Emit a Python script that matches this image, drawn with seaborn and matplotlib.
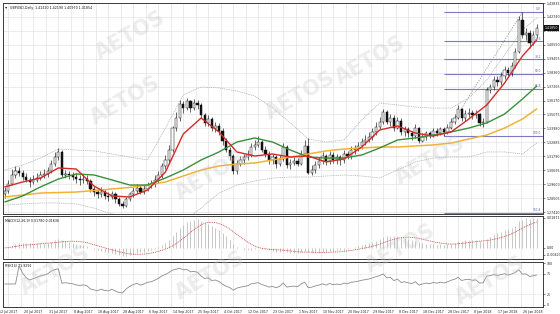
import numpy as np
import pandas as pd
import matplotlib
matplotlib.use("Agg")
import matplotlib.pyplot as plt
import seaborn as sns

sns.set_theme(style="white")
plt.rcParams['font.family'] = ['DejaVu Sans']

# ---------------- data ----------------
first_open = 1.2880
closes = [
    1.2905, 1.2960, 1.3030, 1.3060, 1.3050, 1.3020, 1.2995, 1.2980, 1.2995, 1.3010,
    1.3030, 1.3040, 1.3060, 1.3120, 1.3170, 1.3210, 1.3030, 1.3040, 1.3030, 1.3020,
    1.3000, 1.2990, 1.3000, 1.2985, 1.2920, 1.2900, 1.2880, 1.2900, 1.2870, 1.2860,
    1.2880, 1.2840, 1.2800, 1.2790, 1.2840, 1.2880, 1.2910, 1.2930, 1.2900, 1.2920,
    1.2950, 1.2960, 1.2990, 1.3030, 1.3100, 1.3150, 1.3230, 1.3400, 1.3480, 1.3590,
    1.3560, 1.3610, 1.3560, 1.3600, 1.3580, 1.3500, 1.3440, 1.3470, 1.3400, 1.3420,
    1.3380, 1.3300, 1.3230, 1.3180, 1.3060, 1.3120, 1.3150, 1.3170, 1.3190, 1.3250,
    1.3270, 1.3290, 1.3230, 1.3200, 1.3150, 1.3170, 1.3120, 1.3160, 1.3250, 1.3110,
    1.3130, 1.3140, 1.3120, 1.3200, 1.3260, 1.3050, 1.3070, 1.3110, 1.3140, 1.3180,
    1.3140, 1.3190, 1.3150, 1.3170, 1.3150, 1.3200, 1.3180, 1.3230, 1.3240, 1.3260,
    1.3290, 1.3310, 1.3330, 1.3370, 1.3410, 1.3450, 1.3530, 1.3450, 1.3480, 1.3400,
    1.3460, 1.3370, 1.3390, 1.3360, 1.3340, 1.3400, 1.3300, 1.3330, 1.3360, 1.3340,
    1.3380, 1.3360, 1.3390, 1.3370, 1.3400, 1.3450, 1.3480, 1.3550, 1.3480, 1.3510,
    1.3520, 1.3500, 1.3510, 1.3440, 1.3450, 1.3700, 1.3720, 1.3780, 1.3760, 1.3810,
    1.3860, 1.3830, 1.3890, 1.4000, 1.4250, 1.4130, 1.4150, 1.4070, 1.4130, 1.4185,
]
highs = [
    1.2935, 1.2990, 1.3080, 1.3100, 1.3095, 1.3075, 1.3050, 1.3020, 1.3030, 1.3045,
    1.3065, 1.3080, 1.3095, 1.3150, 1.3210, 1.3245, 1.3225, 1.3075, 1.3060, 1.3055,
    1.3050, 1.3030, 1.3040, 1.3030, 1.3000, 1.2945, 1.2925, 1.2935, 1.2920, 1.2900,
    1.2910, 1.2895, 1.2855, 1.2830, 1.2860, 1.2900, 1.2940, 1.2960, 1.2950, 1.2950,
    1.2980, 1.2995, 1.3030, 1.3060, 1.3130, 1.3190, 1.3270, 1.3420, 1.3530, 1.3620,
    1.3610, 1.3637, 1.3625, 1.3630, 1.3620, 1.3600, 1.3520, 1.3500, 1.3490, 1.3450,
    1.3440, 1.3400, 1.3320, 1.3250, 1.3200, 1.3150, 1.3180, 1.3200, 1.3230, 1.3280,
    1.3310, 1.3340, 1.3310, 1.3260, 1.3220, 1.3200, 1.3190, 1.3190, 1.3280, 1.3270,
    1.3160, 1.3175, 1.3165, 1.3230, 1.3310, 1.3320, 1.3110, 1.3140, 1.3170, 1.3210,
    1.3200, 1.3220, 1.3210, 1.3200, 1.3190, 1.3230, 1.3220, 1.3260, 1.3270, 1.3290,
    1.3320, 1.3350, 1.3370, 1.3400, 1.3450, 1.3490, 1.3550, 1.3545, 1.3510, 1.3500,
    1.3490, 1.3480, 1.3420, 1.3410, 1.3380, 1.3430, 1.3410, 1.3360, 1.3380, 1.3380,
    1.3400, 1.3400, 1.3410, 1.3410, 1.3430, 1.3480, 1.3510, 1.3580, 1.3560, 1.3540,
    1.3555, 1.3540, 1.3540, 1.3520, 1.3480, 1.3720, 1.3750, 1.3810, 1.3810, 1.3840,
    1.3890, 1.3880, 1.3920, 1.4030, 1.4280, 1.4313, 1.4190, 1.4170, 1.4165, 1.4215,
]
lows = [
    1.2850, 1.2890, 1.2950, 1.3010, 1.3025, 1.2995, 1.2975, 1.2935, 1.2960, 1.2980,
    1.2990, 1.3005, 1.3020, 1.3045, 1.3100, 1.3150, 1.3020, 1.3005, 1.3000, 1.2990,
    1.2970, 1.2955, 1.2970, 1.2960, 1.2900, 1.2870, 1.2850, 1.2860, 1.2845, 1.2830,
    1.2840, 1.2815, 1.2785, 1.2775, 1.2780, 1.2825, 1.2860, 1.2890, 1.2880, 1.2880,
    1.2905, 1.2930, 1.2940, 1.2970, 1.3010, 1.3080, 1.3130, 1.3210, 1.3380, 1.3460,
    1.3520, 1.3540, 1.3530, 1.3540, 1.3550, 1.3480, 1.3420, 1.3420, 1.3380, 1.3370,
    1.3350, 1.3270, 1.3210, 1.3150, 1.3040, 1.3040, 1.3100, 1.3120, 1.3150, 1.3170,
    1.3230, 1.3250, 1.3210, 1.3170, 1.3120, 1.3120, 1.3090, 1.3100, 1.3140, 1.3090,
    1.3080, 1.3110, 1.3100, 1.3110, 1.3180, 1.3040, 1.3030, 1.3050, 1.3090, 1.3120,
    1.3110, 1.3120, 1.3130, 1.3120, 1.3110, 1.3130, 1.3160, 1.3160, 1.3200, 1.3220,
    1.3240, 1.3270, 1.3290, 1.3310, 1.3350, 1.3390, 1.3430, 1.3430, 1.3420, 1.3380,
    1.3390, 1.3350, 1.3340, 1.3330, 1.3310, 1.3320, 1.3280, 1.3290, 1.3310, 1.3320,
    1.3330, 1.3340, 1.3345, 1.3338, 1.3355, 1.3390, 1.3430, 1.3470, 1.3460, 1.3460,
    1.3490, 1.3475, 1.3480, 1.3420, 1.3410, 1.3440, 1.3680, 1.3700, 1.3730, 1.3740,
    1.3790, 1.3800, 1.3810, 1.3870, 1.3990, 1.4110, 1.4090, 1.4030, 1.4050, 1.4110,
]

# moving averages / bands, read every 5 bars
ma_idx = [0, 5, 10, 15, 20, 25, 30, 35, 40, 45, 50, 55, 60, 65, 70, 75, 80, 85, 90, 95,
          100, 105, 110, 115, 120, 125, 130, 135, 140, 145, 149]
ma_red = [1.2938, 1.2977, 1.3008, 1.3087, 1.3079, 1.2945, 1.2867, 1.2859, 1.2914, 1.3055,
          1.3354, 1.3480, 1.3370, 1.3213, 1.3181, 1.3197, 1.3173, 1.3181, 1.3134, 1.3158,
          1.3252, 1.3386, 1.3417, 1.3362, 1.3338, 1.3370, 1.3472, 1.3582, 1.3755, 1.3967, 1.4093]
ma_green = [1.2820, 1.2867, 1.2938, 1.3000, 1.3040, 1.3032, 1.2993, 1.2953, 1.2953, 1.3008,
            1.3071, 1.3150, 1.3213, 1.3291, 1.3323, 1.3291, 1.3228, 1.3173, 1.3165, 1.3165,
            1.3189, 1.3244, 1.3307, 1.3323, 1.3346, 1.3370, 1.3401, 1.3441, 1.3511, 1.3629, 1.3731]
ma_yellow = [1.2859, 1.2875, 1.2890, 1.2894, 1.2898, 1.2910, 1.2922, 1.2934, 1.2953, 1.2977,
             1.3024, 1.3071, 1.3103, 1.3118, 1.3126, 1.3150, 1.3173, 1.3197, 1.3221, 1.3236,
             1.3244, 1.3252, 1.3252, 1.3260, 1.3268, 1.3283, 1.3315, 1.3346, 1.3401, 1.3472, 1.3551]
bb_upper = [1.3071, 1.3110, 1.3165, 1.3236, 1.3228, 1.3221, 1.3197, 1.3173, 1.3150, 1.3401,
            1.3661, 1.3724, 1.3716, 1.3692, 1.3653, 1.3558, 1.3441, 1.3315, 1.3291, 1.3307,
            1.3464, 1.3598, 1.3582, 1.3566, 1.3558, 1.3558, 1.3637, 1.3779, 1.3975, 1.4172, 1.4266]
bb_lower = [1.2796, 1.2804, 1.2812, 1.2812, 1.2804, 1.2772, 1.2725, 1.2710, 1.2725, 1.2694,
            1.2662, 1.2772, 1.2890, 1.2953, 1.2985, 1.3008, 1.3016, 1.3016, 1.3024, 1.3032,
            1.3024, 1.3008, 1.3071, 1.3134, 1.3165, 1.3173, 1.3173, 1.3213, 1.3213, 1.3197, 1.3283]

# Fibonacci retracement
fib_low_idx, fib_low = 123, 1.3338
fib_high_idx, fib_high = 145, 1.4313
fib_ratios = [0.0, 23.6, 38.2, 50.0, 61.8, 100.0, 161.8]

price_ticks = [1.27410, 1.28505, 1.29600, 1.30695, 1.31790, 1.32885, 1.33980, 1.35075,
               1.36170, 1.37265, 1.38360, 1.39455, 1.40550, 1.41645, 1.42740, 1.43835]
date_idx = [1 + 7 * k for k in range(22)]
date_labels = ["12 Jul 2017", "20 Jul 2017", "31 Jul 2017", "8 Aug 2017", "18 Aug 2017",
               "28 Aug 2017", "6 Sep 2017", "14 Sep 2017", "25 Sep 2017", "4 Oct 2017",
               "12 Oct 2017", "23 Oct 2017", "1 Nov 2017", "10 Nov 2017", "20 Nov 2017",
               "29 Nov 2017", "8 Dec 2017", "18 Dec 2017", "28 Dec 2017", "8 Jan 2018",
               "17 Jan 2018", "26 Jan 2018"]
rsi_ticks = [0, 25, 75, 100]
macd_ticks = [-0.00427, 0.0, 0.01871]
macd_tick_labels = ["-0.00427", "0.00", "0.01871"]

# ---------------- figure ----------------
W, H = 560, 314
fig = plt.figure(figsize=(W / 100, H / 100), dpi=100)
fig.patch.set_facecolor("white")


def box(x0, y0, x1, y1):
    return [x0 / W, 1 - y1 / H, (x1 - x0) / W, (y1 - y0) / H]


ax = fig.add_axes(box(3, 3, 543, 214))
axm = fig.add_axes(box(3, 216, 543, 259))
axr = fig.add_axes(box(3, 262, 543, 307))

n = len(closes)
idx = np.arange(n)
opens = np.array([first_open] + closes[:-1])
c = np.array(closes)
hi = np.array(highs)
lo = np.array(lows)
XL = (-0.5, 150.76)
FS = 2.3
GRID = "#dcdcdc"

for a in (ax, axm, axr):
    a.set_facecolor("white")
    a.set_xlim(*XL)
    for s in a.spines.values():
        s.set_color("#3a3a3a")
        s.set_linewidth(0.7)
    a.yaxis.tick_right()
    a.tick_params(axis="y", labelsize=FS, length=1.5, width=0.4, pad=1, colors="#222222")
    a.tick_params(axis="x", length=0)
    vg = np.arange(1, 151, 3.5)
    for v in vg:
        a.axvline(v, color=GRID, lw=0.4, zorder=0)
    a.set_xticks([])
    a.set_xlabel("")
    a.set_ylabel("")

# --- main price panel ---
ax.set_ylim(1.27253, 1.43837)
ax.set_yticks(price_ticks)
ax.set_yticklabels([f"{t:.5f}" for t in price_ticks])
for t in price_ticks:
    ax.axhline(t, color=GRID, lw=0.4, zorder=0)

ma_df = pd.DataFrame({"i": ma_idx, "red": ma_red, "green": ma_green, "yellow": ma_yellow,
                      "up": bb_upper, "dn": bb_lower})
sns.lineplot(data=ma_df, x="i", y="up", ax=ax, color="#a8a8a8", lw=0.5, linestyle=(0, (1.5, 1.2)), zorder=2)
sns.lineplot(data=ma_df, x="i", y="dn", ax=ax, color="#a8a8a8", lw=0.5, linestyle=(0, (1.5, 1.2)), zorder=2)

# fib
rng = fib_high - fib_low
for r in fib_ratios:
    lvl = fib_high - rng * r / 100
    ax.hlines(lvl, fib_low_idx, XL[1], color="#7b7bc4", lw=0.8, zorder=2.5)
    ax.text(XL[1] - 0.6, lvl + 0.0006, f"{r:.1f}", ha="right", va="bottom", fontsize=FS * 0.9,
            color="#5a5aa8", zorder=6)
ax.plot([fib_low_idx, fib_high_idx], [fib_low, fib_high], color="#9a9a9a", lw=0.6,
        linestyle=(0, (1.5, 1.5)), zorder=2)

# candles
up = c >= opens
ax.vlines(idx, lo, hi, color="#111111", lw=0.45, zorder=3)
body_lo = np.minimum(opens, c)
body_h = np.maximum(np.abs(c - opens), 0.0002)
ax.bar(idx, body_h, bottom=body_lo, width=0.62,
       color=np.where(up, "white", "#111111"), edgecolor="#111111", linewidth=0.35, zorder=4)

sns.lineplot(data=ma_df, x="i", y="yellow", ax=ax, color="#f2b233", lw=1.1, zorder=5)
sns.lineplot(data=ma_df, x="i", y="green", ax=ax, color="#3a8f3a", lw=1.0, zorder=5)
sns.lineplot(data=ma_df, x="i", y="red", ax=ax, color="#d42a2a", lw=1.0, zorder=5)
ax.set_xlabel("")
ax.set_ylabel("")

ax.text(0.013, 0.988, "GBPUSD,Daily  1.41320 1.42190 1.40970 1.41854", transform=ax.transAxes,
        fontsize=FS, va="top", ha="left", color="#111111")
ax.text(0.004, 0.988, "\u25BE", transform=ax.transAxes, fontsize=FS * 1.4, va="top", ha="left",
        color="#222222")
ax.text(1.004, closes[-1], f"{closes[-1]:.5f}", transform=ax.get_yaxis_transform(), fontsize=FS,
        color="white", va="center", ha="left",
        bbox=dict(boxstyle="square,pad=0.25", fc="#111111", ec="none"), zorder=10, clip_on=False)

# --- MACD ---
s = pd.Series(closes)
ema12 = s.ewm(span=12, adjust=False).mean()
ema26 = s.ewm(span=26, adjust=False).mean()
macd = ema12 - ema26
signal = macd.rolling(9, min_periods=1).mean()
axm.set_ylim(-0.0069, 0.0199)
axm.set_yticks(macd_ticks)
axm.set_yticklabels(macd_tick_labels)
axm.vlines(idx, 0, macd.values, color="#b0b0b0", lw=0.5, zorder=2)
mdf = pd.DataFrame({"i": idx, "sig": signal.values})
sns.lineplot(data=mdf, x="i", y="sig", ax=axm, color="#d04848", lw=0.6, linestyle=(0, (1.2, 1.0)), zorder=3)
axm.set_xlabel("")
axm.set_ylabel("")
axm.text(0.004, 0.94, "MACD(12,26,9) 0.01780 0.01636", transform=axm.transAxes, fontsize=FS,
         va="top", ha="left", color="#111111")

# --- RSI ---
delta = s.diff()
gain = delta.clip(lower=0).fillna(0)
loss = (-delta.clip(upper=0)).fillna(0)
ag = gain.ewm(alpha=1 / 14, adjust=False).mean()
al = loss.ewm(alpha=1 / 14, adjust=False).mean()
rsi = 100 - 100 / (1 + ag / al.replace(0, np.nan))
rsi = rsi.fillna(50)
axr.set_ylim(-4.8, 102.4)
axr.set_yticks(rsi_ticks)
axr.set_yticklabels([str(t) for t in rsi_ticks])
for t in (25, 75):
    axr.axhline(t, color="#c8c8c8", lw=0.4, linestyle=(0, (1.5, 1.5)), zorder=1)
rdf = pd.DataFrame({"i": idx, "rsi": rsi.values})
sns.lineplot(data=rdf, x="i", y="rsi", ax=axr, color="#8c8c8c", lw=0.6, zorder=3)
axr.set_xlabel("")
axr.set_ylabel("")
axr.text(0.004, 0.95, "RSI(14) 71.9291", transform=axr.transAxes, fontsize=FS, va="top",
         ha="left", color="#111111")
for di, dl in zip(date_idx, date_labels):
    axr.text(di, -0.06, dl, transform=axr.get_xaxis_transform(), fontsize=FS, ha="center",
             va="top", color="#222222", clip_on=False)

# watermarks
wm = [(130, 35), (370, 60), (125, 100), (300, 95), (210, 175), (430, 160), (55, 270),
      (210, 275), (400, 248), (490, 280)]
for (px, py) in wm:
    fig.text(px / W, 1 - py / H, "AETOS", fontsize=15, fontweight="bold", color="#c4c4c4",
             alpha=0.3, rotation=30, ha="center", va="center", zorder=20)

fig.savefig("out.png", dpi=100)
